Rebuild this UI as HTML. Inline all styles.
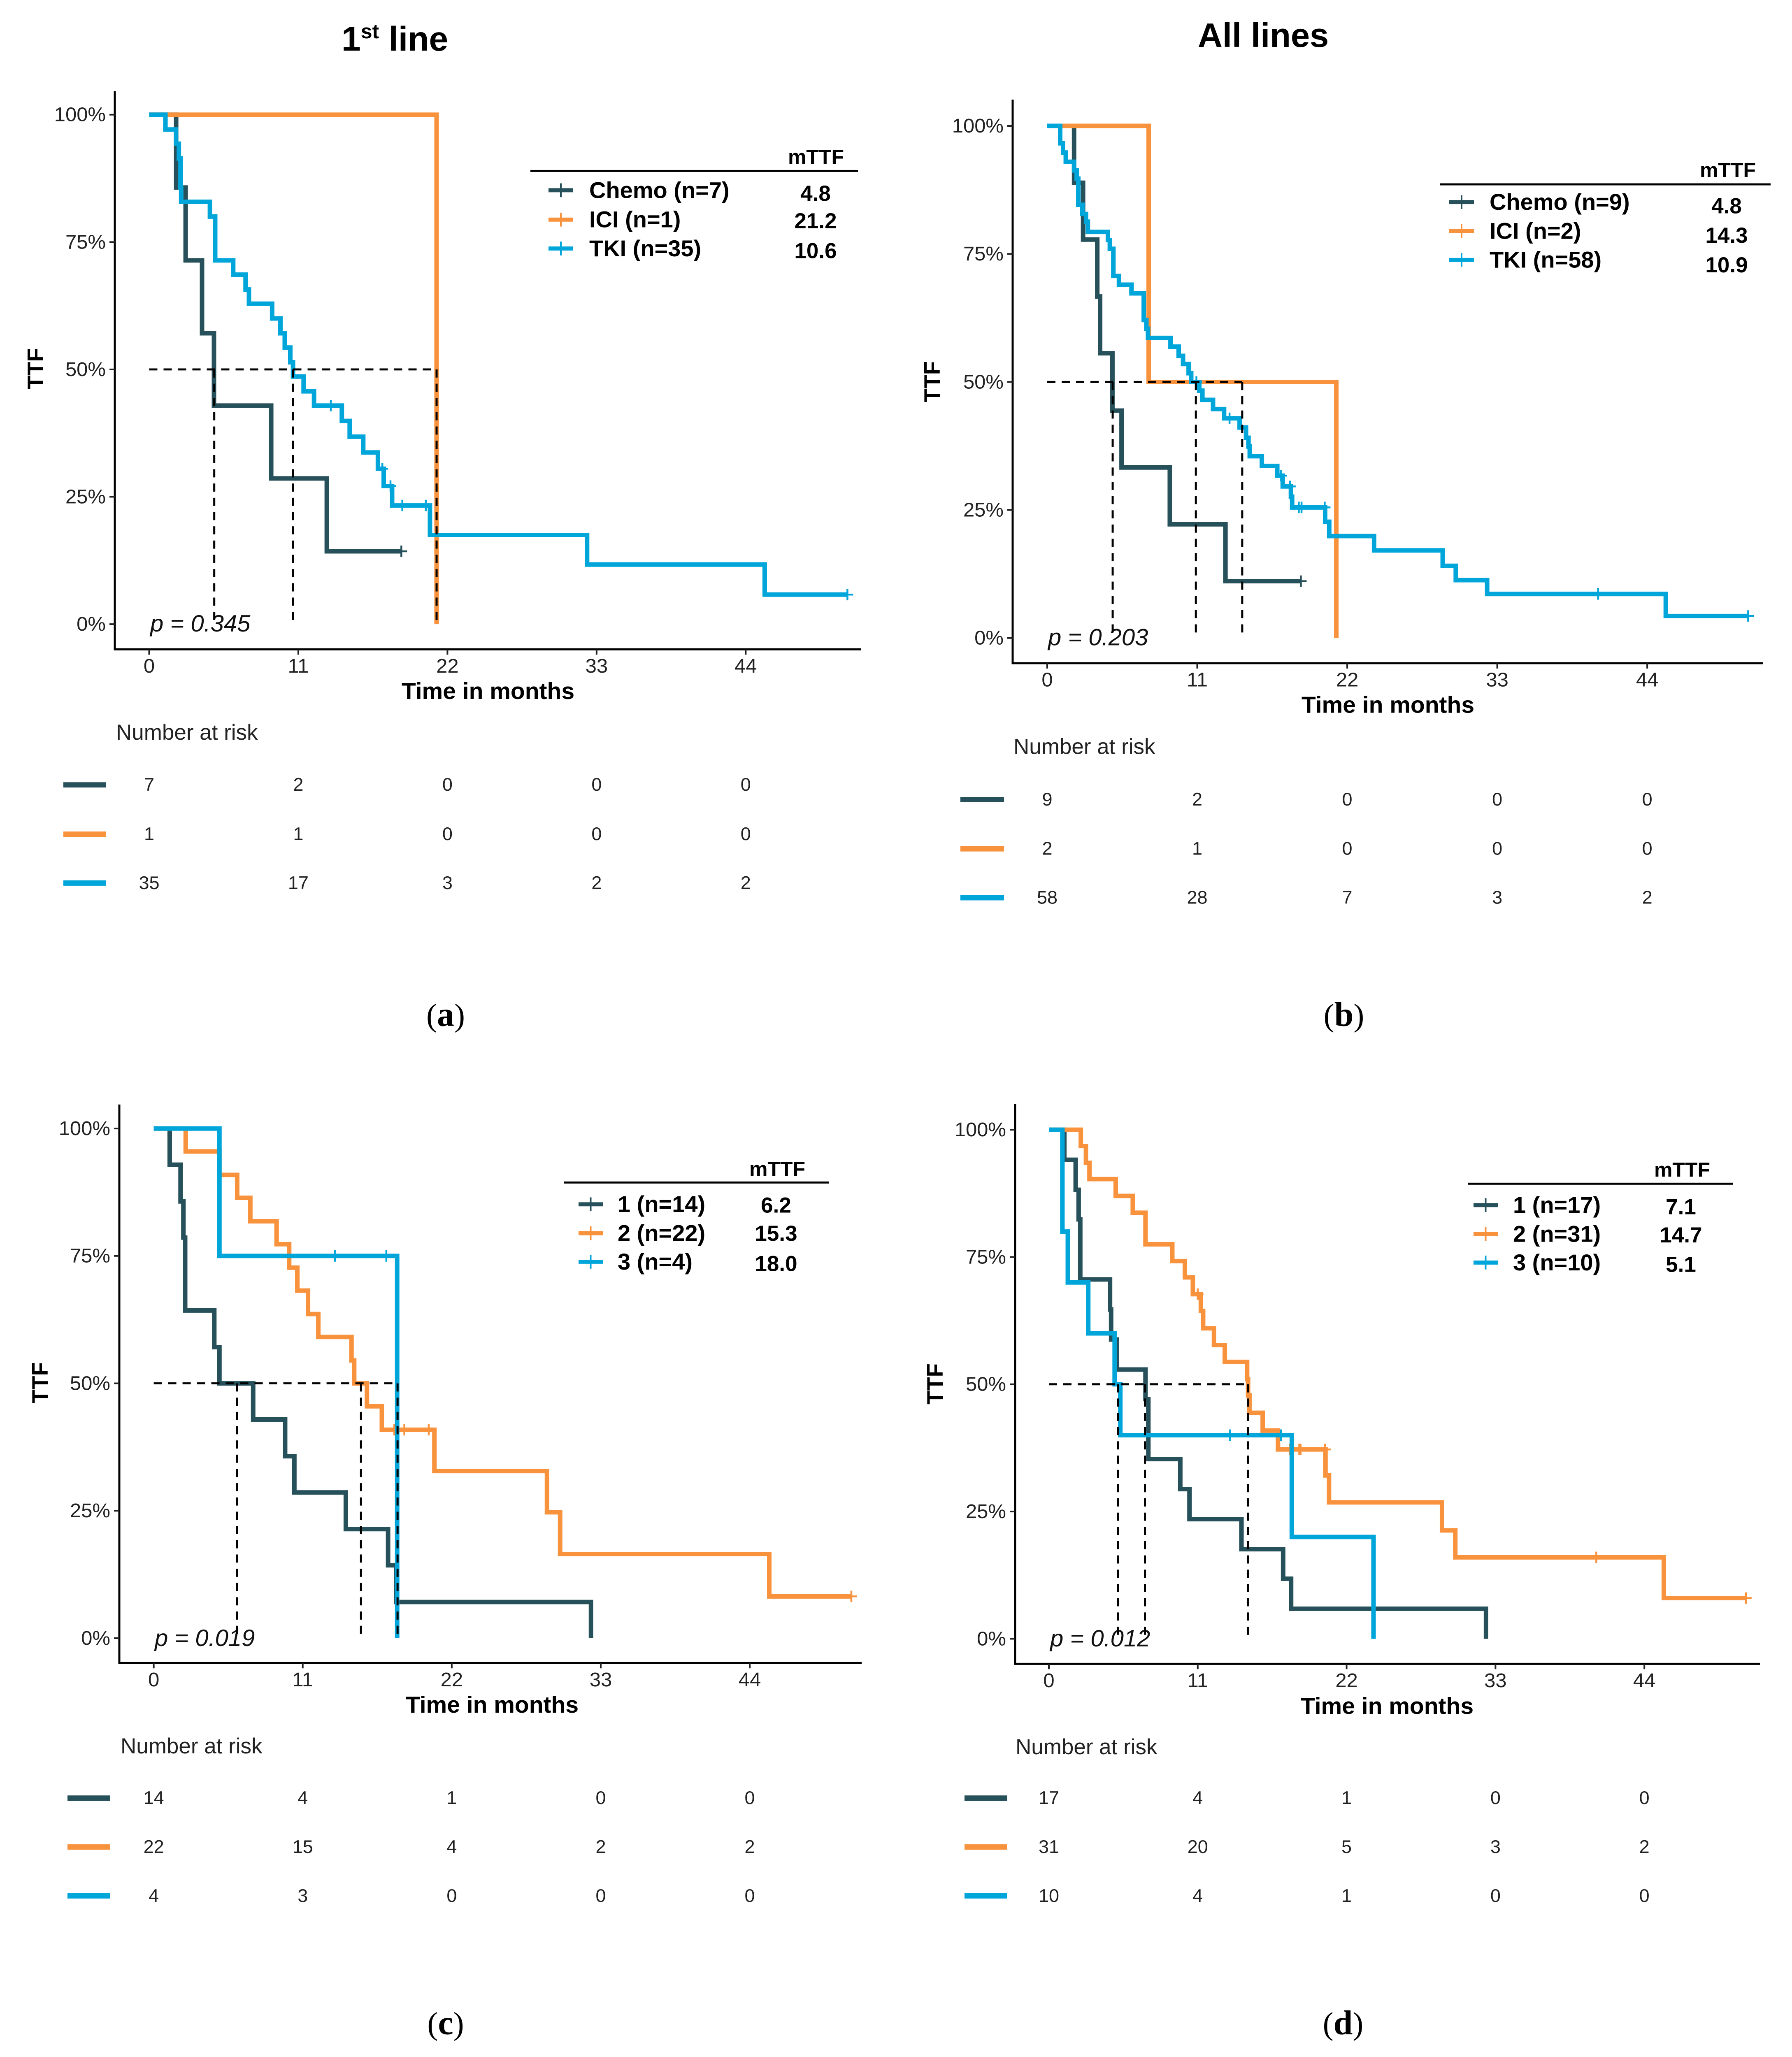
<!DOCTYPE html>
<html lang="en">
<head>
<meta charset="utf-8">
<title>Time to treatment failure curves</title>
<style>
html,body{margin:0;padding:0;background:#fff;width:100%;height:100%;overflow:hidden;}
svg{display:block;position:fixed;left:0;top:0;width:100vw;height:100vh;overflow:hidden;font-family:"Liberation Sans",sans-serif;}
.tt{font-weight:bold;fill:#000;}
.ax{font-weight:bold;font-size:57px;fill:#000;text-anchor:middle;dominant-baseline:central;}
.lab{font-weight:bold;font-size:56px;fill:#000;dominant-baseline:central;}
.val{font-weight:bold;font-size:53px;fill:#000;text-anchor:middle;dominant-baseline:central;}
.mt{font-weight:bold;font-size:50px;fill:#000;text-anchor:middle;dominant-baseline:central;}
.p{font-style:italic;font-size:58px;fill:#111;}
.nr{font-size:53px;fill:#222;dominant-baseline:central;}
.cap{font-family:"Liberation Serif",serif;font-size:78px;fill:#000;text-anchor:middle;}
.cap tspan{font-weight:bold;font-size:84px;}
</style>
</head>
<body>
<svg id="figure" xmlns="http://www.w3.org/2000/svg" viewBox="0 0 4355 5049" preserveAspectRatio="none">
<rect width="4355" height="5049" fill="#fff"/>

<text class="tt" x="830" y="124" font-size="84">1<tspan font-size="50" dy="-30">st</tspan><tspan dy="30"> line</tspan></text>
<text class="tt" x="2911" y="115" font-size="83">All lines</text>

<g id="panel-a">
<text class="ax" x="1186" y="1697">Time in months</text>
<text class="ax" transform="translate(86 905) rotate(-90)" style="font-size:55px">TTF</text>
<text class="p" x="365" y="1550">p = 0.345</text>
<text class="mt" x="1983" y="385">mTTF</text>
<rect x="1289" y="417" width="796" height="5" fill="#000"/>
<text class="lab" x="1432" y="467">Chemo (n=7)</text>
<text class="lab" x="1432" y="539">ICI (n=1)</text>
<text class="lab" x="1432" y="610">TKI (n=35)</text>
<text class="val" x="1982" y="475">4.8</text>
<text class="val" x="1982" y="543">21.2</text>
<text class="val" x="1982" y="616">10.6</text>
<text class="nr" x="282" y="1798">Number at risk</text>
<text class="cap" x="1083" y="2518">(<tspan>a</tspan>)</text>
</g>

<g id="panel-b">
<text class="ax" x="3373" y="1731">Time in months</text>
<text class="ax" transform="translate(2265 937) rotate(-90)" style="font-size:55px">TTF</text>
<text class="p" x="2547" y="1584">p = 0.203</text>
<text class="mt" x="4199" y="417">mTTF</text>
<rect x="3500" y="450" width="803" height="5" fill="#000"/>
<text class="lab" x="3620" y="496">Chemo (n=9)</text>
<text class="lab" x="3620" y="567">ICI (n=2)</text>
<text class="lab" x="3620" y="638">TKI (n=58)</text>
<text class="val" x="4196" y="506">4.8</text>
<text class="val" x="4196" y="578">14.3</text>
<text class="val" x="4196" y="651">10.9</text>
<text class="nr" x="2463" y="1833">Number at risk</text>
<text class="cap" x="3266" y="2518">(<tspan>b</tspan>)</text>
</g>

<g id="panel-c">
<text class="ax" x="1196" y="4185">Time in months</text>
<text class="ax" transform="translate(97 3394) rotate(-90)" style="font-size:55px">TTF</text>
<text class="p" x="376" y="4040">p = 0.019</text>
<text class="mt" x="1889" y="2869">mTTF</text>
<rect x="1371" y="2900" width="644" height="5" fill="#000"/>
<text class="lab" x="1501" y="2956">1 (n=14)</text>
<text class="lab" x="1501" y="3027">2 (n=22)</text>
<text class="lab" x="1501" y="3097">3 (n=4)</text>
<text class="val" x="1886" y="2959">6.2</text>
<text class="val" x="1886" y="3028">15.3</text>
<text class="val" x="1886" y="3102">18.0</text>
<text class="nr" x="293" y="4286">Number at risk</text>
<text class="cap" x="1083" y="4993">(<tspan>c</tspan>)</text>
</g>

<g id="panel-d">
<text class="ax" x="3371" y="4188">Time in months</text>
<text class="ax" transform="translate(2272 3397) rotate(-90)" style="font-size:55px">TTF</text>
<text class="p" x="2552" y="4041">p = 0.012</text>
<text class="mt" x="4088" y="2871">mTTF</text>
<rect x="3567" y="2903" width="644" height="5" fill="#000"/>
<text class="lab" x="3677" y="2958">1 (n=17)</text>
<text class="lab" x="3677" y="3029">2 (n=31)</text>
<text class="lab" x="3677" y="3099">3 (n=10)</text>
<text class="val" x="4085" y="2963">7.1</text>
<text class="val" x="4085" y="3032">14.7</text>
<text class="val" x="4085" y="3104">5.1</text>
<text class="nr" x="2468" y="4288">Number at risk</text>
<text class="cap" x="3264" y="4993">(<tspan>d</tspan>)</text>
</g>
</svg>

<script>
// Shared axis values
const xTickValues = [0, 11, 22, 33, 44];
const yTickValues = [0, 25, 50, 75, 100];

// Panel A: 1st line by treatment
const aChemoTimes = [1.99, 2.69, 3.9, 4.78, 9.0, 13.1];
const aChemoSurv = [85.7, 71.4, 57.1, 42.9, 28.6, 14.3];
const aChemoCensor = [18.6];
const aIciTimes = [21.2];
const aIciSurv = [0];
const aIciCensor = [];
const aTkiTimes = [1.2, 1.98, 2.19, 2.31, 2.36, 4.48, 4.87, 6.2, 7.11, 7.36, 9.07, 9.68, 10, 10.41, 10.61, 11.39, 12.16, 14.21, 14.79, 15.79, 16.87, 17.3, 17.92, 20.71, 32.3, 45.4];
const aTkiSurv = [97.1, 94.3, 91.4, 85.7, 82.9, 80, 71.4, 68.6, 65.7, 62.9, 60, 57.1, 54.3, 51.4, 48.6, 45.7, 42.9, 39.9, 36.8, 33.7, 30.5, 27.1, 23.3, 17.5, 11.7, 5.8];
const aTkiCensor = [13.4, 17.2, 17.8, 18.67, 20.4, 51.5];
const aMedians = [4.8, 10.6, 21.2];
const aRiskChemo = [7, 2, 0, 0, 0];
const aRiskIci = [1, 1, 0, 0, 0];
const aRiskTki = [35, 17, 3, 2, 2];

// Panel B: all lines by treatment
const bChemoTimes = [1.97, 2.63, 3.67, 3.88, 4.78, 5.45, 8.99, 13.07];
const bChemoSurv = [88.9, 77.8, 66.7, 55.6, 44.4, 33.3, 22.2, 11.1];
const bChemoCensor = [18.6];
const bIciTimes = [7.44, 21.2];
const bIciSurv = [50, 0];
const bIciCensor = [];
const bTkiTimes = [0.95, 1.16, 1.36, 1.97, 2.16, 2.28, 2.58, 2.85, 2.98, 4.45, 4.59, 4.85, 5.26, 6.18, 7.08, 7.27, 7.39, 9.04, 9.64, 9.96, 10.37, 10.56, 11.15, 11.38, 12.16, 12.97, 14.11, 14.58, 14.76, 14.85, 15.74, 16.87, 17.27, 17.87, 17.96, 20.38, 20.68, 23.97, 29, 29.96, 32.26, 45.36];
const bTkiSurv = [96.6, 94.8, 93, 91.3, 89.7, 84.6, 82.8, 81.3, 79.3, 77.7, 76, 70.7, 69, 67.3, 62.1, 60.4, 58.6, 56.9, 55.1, 53.5, 51.7, 50, 48.3, 46.5, 44.7, 42.9, 41.1, 39.1, 37.4, 35.5, 33.6, 31.7, 29.6, 27.6, 25.5, 22.7, 19.9, 17.1, 14.1, 11.3, 8.6, 4.3];
const bTkiCensor = [10.94, 13.37, 17.15, 17.8, 18.45, 18.65, 20.35, 40.4, 51.4];
const bMedians = [4.8, 10.9, 14.3];
const bRiskChemo = [9, 2, 0, 0, 0];
const bRiskIci = [2, 1, 0, 0, 0];
const bRiskTki = [58, 28, 7, 3, 2];

// Panel C: 1st line by group
const cOneTimes = [1.18, 1.98, 2.19, 2.32, 4.47, 4.85, 7.34, 9.7, 10.38, 14.18, 17.3, 17.9, 32.28];
const cOneSurv = [92.9, 85.7, 78.6, 64.3, 57.1, 50, 42.9, 35.7, 28.6, 21.4, 14.3, 7.1, 0];
const cOneCensor = [];
const cTwoTimes = [2.36, 4.85, 6.16, 7.13, 9.07, 10, 10.6, 11.39, 12.15, 14.6, 14.8, 15.74, 16.84, 20.72, 29.03, 30, 45.44];
const cTwoSurv = [95.5, 90.9, 86.4, 81.8, 77.3, 72.7, 68.2, 63.6, 59.1, 54.5, 50, 45.5, 40.9, 32.8, 24.7, 16.5, 8.2];
const cTwoCensor = [17.76, 18.5, 20.3, 51.5];
const cThreeTimes = [4.85, 17.97];
const cThreeSurv = [75, 0];
const cThreeCensor = [13.37, 17.17];
const cMedians = [6.15, 15.3, 18.0];
const cRiskOne = [14, 4, 1, 0, 0];
const cRiskTwo = [22, 15, 4, 2, 2];
const cRiskThree = [4, 3, 0, 0, 0];

// Panel D: all lines by group
const dOneTimes = [1.14, 1.98, 2.2, 2.32, 4.52, 4.6, 5.03, 7.14, 7.35, 9.71, 10.39, 14.23, 17.31, 17.9, 32.3];
const dOneSurv = [94.1, 88.2, 82.4, 70.6, 64.7, 58.8, 52.9, 47.1, 35.3, 29.4, 23.5, 17.6, 11.8, 5.9, 0];
const dOneCensor = [];
const dTwoTimes = [1.0, 2.36, 2.74, 3, 4.94, 6.2, 7.14, 9.12, 10.05, 10.64, 11.23, 11.4, 12.2, 13, 14.65, 14.72, 14.82, 15.8, 16.93, 20.44, 20.7, 29.05, 30.03, 45.44];
const dTwoSurv = [100, 96.8, 93.5, 90.3, 87, 83.7, 77.5, 74.2, 71, 67.7, 64.4, 61, 57.7, 54.4, 51, 47.8, 44.4, 40.9, 37.2, 32.1, 26.8, 21.3, 16, 8];
const dTwoCensor = [11.0, 17.8, 18.5, 18.6, 20.4, 40.45, 51.5];
const dThreeTimes = [1.0, 1.4, 2.91, 4.86, 5.28, 17.95, 23.99];
const dThreeSurv = [80, 70, 60, 50, 40, 20, 0];
const dThreeCensor = [13.39, 17.15];
const dMedians = [5.1, 7.1, 14.7];
const dRiskOne = [17, 4, 1, 0, 0];
const dRiskTwo = [31, 20, 5, 3, 2];
const dRiskThree = [10, 4, 1, 0, 0];

const DARK = '#26505a';
const ORANGE = '#f9923d';
const BLUE = '#00a5da';
const NS = 'http://www.w3.org/2000/svg';

function make(tag, parent, attrs, text) {
  const el = document.createElementNS(NS, tag);
  for (const k in attrs) el.setAttribute(k, attrs[k]);
  if (text !== undefined) el.textContent = text;
  parent.appendChild(el);
  return el;
}

function survivalAt(times, surv, t) {
  let s = 100;
  for (let i = 0; i < times.length; i++) {
    if (times[i] <= t) s = surv[i];
  }
  return s;
}

function drawPanel(p) {
  const root = document.getElementById(p.id);
  const xScale = function (m) { return p.x0 + m * p.pxPerMonth; };
  const yScale = function (v) { return p.y0 - (p.y0 - p.y100) * v / 100; };

  // axes
  const axisPath = make('path', root, {d: 'M' + p.axisX + ' ' + p.top + 'V' + p.axisY + 'H' + p.right, fill: 'none', stroke: '#000', 'stroke-width': 5});
  
  

  xTickValues.forEach(function (v) {
    const t = make('line', root, {x1: xScale(v), x2: xScale(v), y1: p.axisY, y2: p.axisY + 13, stroke: '#222', 'stroke-width': 4});
    
    
    const l = make('text', root, {x: xScale(v), y: p.axisY + 41, 'font-size': 49, fill: '#222', 'text-anchor': 'middle', 'dominant-baseline': 'central'}, String(v));
    
    
  });
  yTickValues.forEach(function (v) {
    const t = make('line', root, {x1: p.axisX - 13, x2: p.axisX, y1: yScale(v), y2: yScale(v), stroke: '#222', 'stroke-width': 4});
    
    
    const l = make('text', root, {x: p.axisX - 22, y: yScale(v), 'font-size': 49, fill: '#222', 'text-anchor': 'end', 'dominant-baseline': 'central'}, v + '%');
    
    
  });

  // survival curves
  p.series.forEach(function (s, idx) {
    let d = 'M' + xScale(0) + ' ' + yScale(100);
    for (let i = 0; i < s.times.length; i++) {
      d += 'H' + xScale(s.times[i]) + 'V' + yScale(s.surv[i]);
    }
    const last = Math.max(s.times[s.times.length - 1], s.censor.length ? Math.max.apply(null, s.censor) : 0);
    d += 'H' + xScale(last);
    const curve = make('path', root, {d: d, fill: 'none', stroke: s.color, 'stroke-width': 11, 'stroke-linejoin': 'miter'});
    
    

    s.censor.forEach(function (c) {
      const cx = xScale(c);
      const cy = yScale(survivalAt(s.times, s.surv, c));
      const mark = make('path', root, {d: 'M' + (cx - 14) + ' ' + cy + 'H' + (cx + 14) + 'M' + cx + ' ' + (cy - 14) + 'V' + (cy + 14), fill: 'none', stroke: s.color, 'stroke-width': 4.5});
      
      
    });

    // legend key
    const ky = p.keyY[idx];
    const key = make('path', root, {d: 'M' + p.keyX0 + ' ' + ky + 'H' + p.keyX1, fill: 'none', stroke: s.color, 'stroke-width': 10});
    
    
    const kmid = (p.keyX0 + p.keyX1) / 2;
    const keyTick = make('path', root, {d: 'M' + kmid + ' ' + (ky - 17) + 'V' + (ky + 17), fill: 'none', stroke: s.color, 'stroke-width': 4});
    
    

    // risk table row
    const ry = p.riskY[idx];
    const sw = make('rect', root, {x: p.swatchX0, y: ry - 6, width: p.swatchX1 - p.swatchX0, height: 13, fill: s.color});
    
    
    s.risk.forEach(function (n, j) {
      const t = make('text', root, {x: xScale(xTickValues[j]), y: ry, 'font-size': 45, fill: '#222', 'text-anchor': 'middle', 'dominant-baseline': 'central'}, String(n));
      
      
    });
  });

  // median guides
  const maxMedian = Math.max.apply(null, p.medians);
  const hGuide = make('line', root, {x1: xScale(0), x2: xScale(maxMedian), y1: yScale(50), y2: yScale(50), stroke: '#000', 'stroke-width': 5, 'stroke-dasharray': '20 15'});
  
  
  p.medians.forEach(function (m) {
    const g = make('line', root, {x1: xScale(m), x2: xScale(m), y1: yScale(50), y2: yScale(0), stroke: '#000', 'stroke-width': 5, 'stroke-dasharray': '20 15'});
    
    
  });
}

[
  {id: 'panel-a', axisX: 279, top: 224, axisY: 1594, right: 2093, x0: 362.5, pxPerMonth: 32.95, y100: 281.5, y0: 1532,
   keyX0: 1333, keyX1: 1393, keyY: [467, 539, 610], swatchX0: 154, swatchX1: 258, riskY: [1926, 2047, 2167], medians: aMedians,
   series: [
     {key: 'chemo', color: DARK, times: aChemoTimes, surv: aChemoSurv, censor: aChemoCensor, risk: aRiskChemo},
     {key: 'ici', color: ORANGE, times: aIciTimes, surv: aIciSurv, censor: aIciCensor, risk: aRiskIci},
     {key: 'tki', color: BLUE, times: aTkiTimes, surv: aTkiSurv, censor: aTkiCensor, risk: aRiskTki}
   ]},
  {id: 'panel-b', axisX: 2461, top: 244.5, axisY: 1628, right: 4285, x0: 2545, pxPerMonth: 33.14, y100: 309, y0: 1566,
   keyX0: 3522, keyX1: 3582, keyY: [496, 567, 638], swatchX0: 2334, swatchX1: 2440, riskY: [1962, 2083, 2203], medians: bMedians,
   series: [
     {key: 'chemo', color: DARK, times: bChemoTimes, surv: bChemoSurv, censor: bChemoCensor, risk: bRiskChemo},
     {key: 'ici', color: ORANGE, times: bIciTimes, surv: bIciSurv, censor: bIciCensor, risk: bRiskIci},
     {key: 'tki', color: BLUE, times: bTkiTimes, surv: bTkiSurv, censor: bTkiCensor, risk: bRiskTki}
   ]},
  {id: 'panel-c', axisX: 290, top: 2711, axisY: 4082, right: 2094, x0: 373.6, pxPerMonth: 32.92, y100: 2770, y0: 4021,
   keyX0: 1406, keyX1: 1465, keyY: [2956, 3027, 3097], swatchX0: 164, swatchX1: 268, riskY: [4413, 4533, 4653], medians: cMedians,
   series: [
     {key: 'group-1', color: DARK, times: cOneTimes, surv: cOneSurv, censor: cOneCensor, risk: cRiskOne},
     {key: 'group-2', color: ORANGE, times: cTwoTimes, surv: cTwoSurv, censor: cTwoCensor, risk: cRiskTwo},
     {key: 'group-3', color: BLUE, times: cThreeTimes, surv: cThreeSurv, censor: cThreeCensor, risk: cRiskThree}
   ]},
  {id: 'panel-d', axisX: 2467, top: 2710, axisY: 4084, right: 4277, x0: 2549, pxPerMonth: 32.89, y100: 2773, y0: 4022.5,
   keyX0: 3581, keyX1: 3640, keyY: [2958, 3029, 3099], swatchX0: 2344, swatchX1: 2448, riskY: [4413, 4533, 4653], medians: dMedians,
   series: [
     {key: 'group-1', color: DARK, times: dOneTimes, surv: dOneSurv, censor: dOneCensor, risk: dRiskOne},
     {key: 'group-2', color: ORANGE, times: dTwoTimes, surv: dTwoSurv, censor: dTwoCensor, risk: dRiskTwo},
     {key: 'group-3', color: BLUE, times: dThreeTimes, surv: dThreeSurv, censor: dThreeCensor, risk: dRiskThree}
   ]}
].forEach(drawPanel);
</script>
</body>
</html>
